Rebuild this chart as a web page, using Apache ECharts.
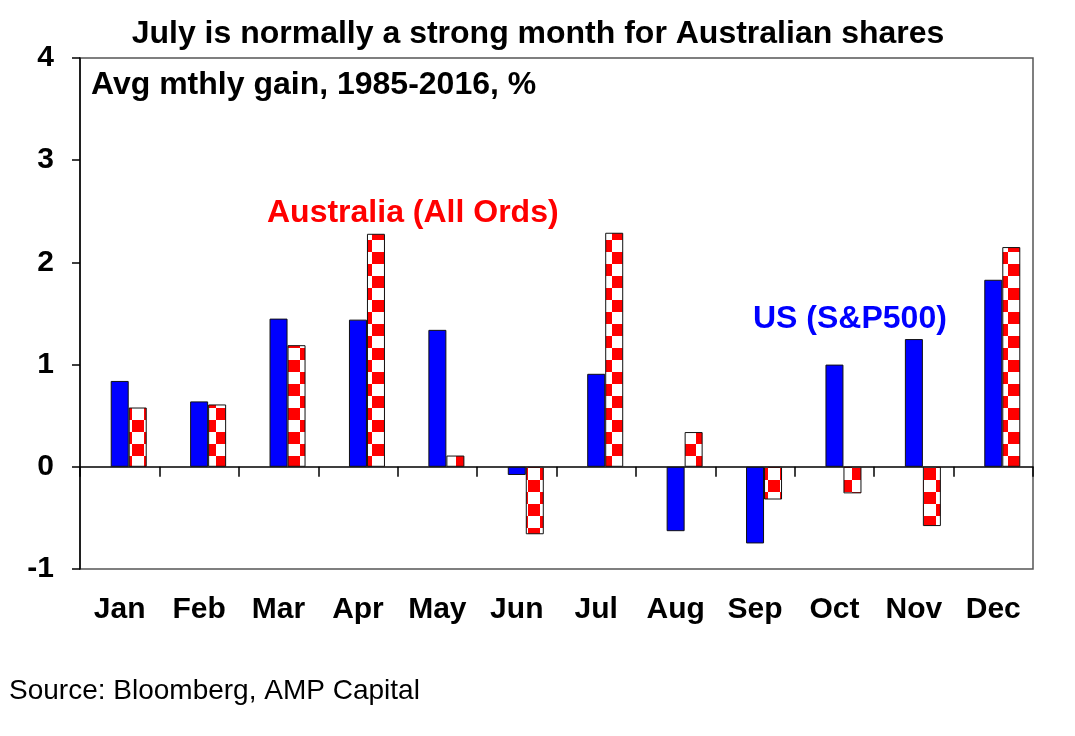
<!DOCTYPE html>
<html>
<head>
<meta charset="utf-8">
<script src="https://cdn.jsdelivr.net/npm/echarts@6/dist/echarts.min.js"></script>
<style>
html,body{margin:0;padding:0;background:#fff;}
#chart{width:1075px;height:736px;}
</style>
</head>
<body>
<div id="chart"></div>
<script>
var months = ['Jan','Feb','Mar','Apr','May','Jun','Jul','Aug','Sep','Oct','Nov','Dec'];
var usValues = [0.84, 0.64, 1.45, 1.44, 1.34, -0.08, 0.91, -0.63, -0.75, 1.00, 1.25, 1.83];
var ausValues = [0.58, 0.61, 1.19, 2.28, 0.11, -0.66, 2.29, 0.34, -0.32, -0.26, -0.58, 2.15];
var spacerValues = [null, null, null, null, null, null, null, null, null, null, null, null];

var FONT = '"Liberation Sans", Arial, sans-serif';

// checkerboard pattern for Australian bars
var cell = 12;
var pc = document.createElement('canvas');
pc.width = cell * 2; pc.height = cell * 2;
var ctx = pc.getContext('2d');
ctx.fillStyle = '#ffffff'; ctx.fillRect(0, 0, cell * 2, cell * 2);
ctx.fillStyle = '#ff0000';
ctx.fillRect(0, 0, cell, cell);
ctx.fillRect(cell, cell, cell, cell);

var chart = echarts.init(document.getElementById('chart'), null, {renderer: 'canvas'});
chart.setOption({
  animation: false,
  backgroundColor: '#fff',
  title: {
    text: 'July is normally a strong month for Australian shares',
    left: 533, top: 13, textAlign: 'center',
    textStyle: {fontFamily: FONT, fontWeight: 'bold', fontSize: 32, color: '#000'}
  },
  grid: {left: 80, right: 42, top: 58, bottom: 167, show: true, borderColor: '#555', borderWidth: 1.5, backgroundColor: 'transparent'},
  xAxis: [{
    type: 'category', data: months, boundaryGap: true,
    axisLine: {onZero: true, lineStyle: {color: '#000', width: 1.5}},
    axisTick: {show: true, inside: false, length: 10, alignWithLabel: false, lineStyle: {color: '#000', width: 1.5}},
    axisLabel: {show: false}, splitLine: {show: false}
  }, {
    type: 'category', data: months, position: 'bottom', boundaryGap: true,
    axisLine: {show: false, onZero: false}, axisTick: {show: false}, splitLine: {show: false},
    axisLabel: {show: true, margin: 26, fontFamily: FONT, fontWeight: 'bold', fontSize: 30, color: '#000'}
  }],
  yAxis: {
    type: 'value', min: -1, max: 4, interval: 1,
    axisLine: {show: true, lineStyle: {color: '#000', width: 1.5}},
    axisTick: {show: true, inside: false, length: 8, lineStyle: {color: '#000', width: 1.5}},
    splitLine: {show: false},
    axisLabel: {margin: 26, fontFamily: FONT, fontWeight: 'bold', fontSize: 30, color: '#000'}
  },
  series: [{
    name: 'spacer', type: 'bar', xAxisIndex: 0, data: spacerValues, barWidth: 18, barGap: '0%',
    itemStyle: {color: 'transparent'}, silent: true
  }, {
    name: 'US (S&P500)', type: 'bar', xAxisIndex: 0, data: usValues, barWidth: 18, barGap: '0%',
    itemStyle: {color: '#0000ff', borderColor: '#111', borderWidth: 1}
  }, {
    name: 'Australia (All Ords)', type: 'bar', xAxisIndex: 0, data: ausValues, barWidth: 18, barGap: '0%',
    itemStyle: {color: {image: pc, repeat: 'repeat'}, borderColor: '#111', borderWidth: 1}
  }],
  graphic: [{
    type: 'text', left: 91, top: 69,
    style: {text: 'Avg mthly gain, 1985-2016, %', font: 'bold 32px ' + FONT, fill: '#000'}
  }, {
    type: 'text', left: 267, top: 197,
    style: {text: 'Australia (All Ords)', font: 'bold 32px ' + FONT, fill: '#ff0000'}
  }, {
    type: 'text', left: 753, top: 303,
    style: {text: 'US (S&P500)', font: 'bold 32px ' + FONT, fill: '#0000ff'}
  }, {
    type: 'text', left: 9, top: 677,
    style: {text: 'Source: Bloomberg, AMP Capital', font: '28px ' + FONT, fill: '#000'}
  }]
});
</script>
</body>
</html>
